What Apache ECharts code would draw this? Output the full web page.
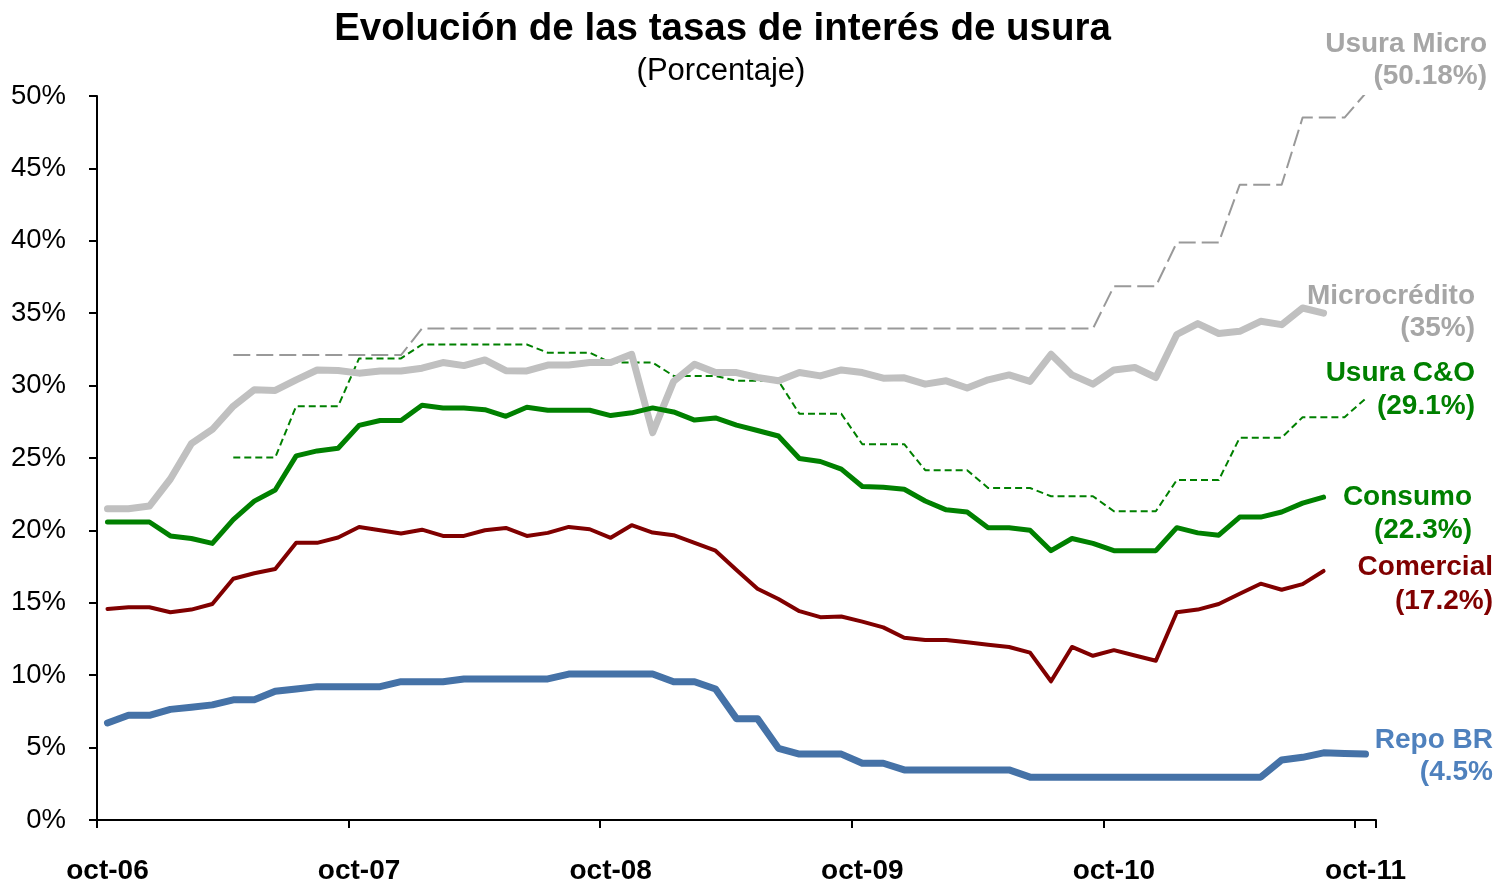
<!DOCTYPE html>
<html><head><meta charset="utf-8">
<script src="https://cdn.jsdelivr.net/npm/echarts@6/dist/echarts.min.js"></script>
<style>html,body{margin:0;padding:0;background:#fff}#c{width:1497px;height:885px}</style>
</head><body><div id="c"></div><script>
const months = [
 'oct-06','nov-06','dic-06','ene-07','feb-07','mar-07','abr-07','may-07','jun-07','jul-07','ago-07','sep-07',
 'oct-07','nov-07','dic-07','ene-08','feb-08','mar-08','abr-08','may-08','jun-08','jul-08','ago-08','sep-08',
 'oct-08','nov-08','dic-08','ene-09','feb-09','mar-09','abr-09','may-09','jun-09','jul-09','ago-09','sep-09',
 'oct-09','nov-09','dic-09','ene-10','feb-10','mar-10','abr-10','may-10','jun-10','jul-10','ago-10','sep-10',
 'oct-10','nov-10','dic-10','ene-11','feb-11','mar-11','abr-11','may-11','jun-11','jul-11','ago-11','sep-11',
 'oct-11'];

const yTicks = [0,5,10,15,20,25,30,35,40,45,50];

const repoBR = [6.70,7.23,7.23,7.64,7.79,7.95,8.30,8.30,8.89,9.05,9.21,9.21,
 9.21,9.21,9.55,9.55,9.55,9.74,9.74,9.74,9.74,9.74,10.08,10.08,
 10.08,10.08,10.08,9.55,9.55,9.05,7.0,7.0,4.95,4.55,4.55,4.55,
 3.92,3.92,3.46,3.46,3.46,3.46,3.46,3.46,2.96,2.96,2.96,2.96,
 2.96,2.96,2.96,2.96,2.96,2.96,2.96,2.96,4.14,4.33,4.64,4.60,4.55];

const comercial = [14.58,14.69,14.69,14.35,14.53,14.92,16.66,17.04,17.34,19.14,19.14,19.51,
 20.24,20.01,19.78,20.05,19.62,19.62,20.01,20.17,19.62,19.83,20.24,20.08,
 19.49,20.36,19.85,19.67,19.14,18.60,17.27,15.97,15.26,14.42,14.01,14.05,
 13.70,13.30,12.59,12.43,12.43,12.27,12.11,11.95,11.56,9.58,11.95,11.34,
 11.73,11.36,11.00,14.35,14.53,14.92,15.63,16.32,15.90,16.29,17.20];

const consumo = [20.58,20.58,20.58,19.62,19.44,19.10,20.74,22.02,22.79,25.15,25.49,25.67,
 27.25,27.59,27.59,28.64,28.46,28.46,28.34,27.88,28.51,28.30,28.30,28.30,
 27.93,28.12,28.46,28.18,27.62,27.77,27.27,26.90,26.52,24.97,24.76,24.23,
 23.03,22.98,22.84,22.03,21.42,21.27,20.19,20.19,20.01,18.60,19.44,19.10,
 18.60,18.60,18.60,20.19,19.83,19.67,20.92,20.92,21.27,21.88,22.30];

const microcredito = [21.49,21.49,21.68,23.55,25.99,26.97,28.58,29.71,29.67,30.40,31.08,31.04,
 30.86,31.01,31.01,31.20,31.59,31.38,31.77,31.03,31.01,31.42,31.42,31.59,
 31.59,32.16,26.75,30.29,31.47,30.90,30.90,30.56,30.33,30.90,30.67,31.08,
 30.90,30.51,30.54,30.10,30.33,29.83,30.40,30.74,30.29,32.16,30.74,30.10,
 31.08,31.25,30.56,33.53,34.28,33.60,33.75,34.44,34.21,35.36,35.00];

const usuraCO = [null,null,null,null,null,null,25.03,25.03,25.03,28.58,28.58,28.58,
 31.88,31.88,31.88,32.84,32.84,32.84,32.84,32.84,32.84,32.27,32.27,32.27,
 31.59,31.59,31.59,30.67,30.67,30.67,30.33,30.33,30.33,28.05,28.05,28.05,
 25.95,25.95,25.95,24.16,24.16,24.16,22.93,22.93,22.93,22.36,22.36,22.36,
 21.32,21.32,21.32,23.48,23.48,23.48,26.40,26.40,26.40,27.82,27.82,27.82,
 29.10];

const usuraMicro = [null,null,null,null,null,null,32.11,32.11,32.11,32.11,32.11,32.11,
 32.11,32.11,32.11,33.94,33.94,33.94,33.94,33.94,33.94,33.94,33.94,33.94,
 33.94,33.94,33.94,33.94,33.94,33.94,33.94,33.94,33.94,33.94,33.94,33.94,
 33.94,33.94,33.94,33.94,33.94,33.94,33.94,33.94,33.94,33.94,33.94,33.94,
 36.86,36.86,36.86,39.88,39.88,39.88,43.87,43.87,43.87,48.51,48.51,48.51,
 50.18];

const endLabels = [
 {lines:['Usura Micro','(50.18%)'], color:'#A6A6A6'},
 {lines:['Microcrédito','(35%)'], color:'#A6A6A6'},
 {lines:['Usura C&O','(29.1%)'], color:'#008000'},
 {lines:['Consumo','(22.3%)'], color:'#008000'},
 {lines:['Comercial','(17.2%)'], color:'#800000'},
 {lines:['Repo BR','(4.5%'], color:'#4F81BD'}
];
const labelPos = [[1487,44,76],[1475,296,328],[1475,373,406],[1472,497,530],[1493,567,601],[1493,740,772]];

const FONT = '"Liberation Sans", Arial, sans-serif';
const chart = echarts.init(document.getElementById('c'), null, {renderer:'canvas'});

function line(name, data, color, width, dash, z) {
  return {name, type:'line', data, symbol:'none', z, silent:true,
    lineStyle:{color, width, type: dash || 'solid', cap: dash ? 'butt' : 'round', join:'round'},
    itemStyle:{color}, emphasis:{disabled:true}};
}

const graphics = [
  {type:'text', x:722.5, y:29, style:{text:'Evolución de las tasas de interés de usura', fill:'#000',
    font:'bold 38.5px '+FONT, textAlign:'center', textVerticalAlign:'middle'}},
  {type:'text', x:721, y:71, style:{text:'(Porcentaje)', fill:'#000',
    font:'31px '+FONT, textAlign:'center', textVerticalAlign:'middle'}}
];
endLabels.forEach((l,k)=>{
  const p = labelPos[k];
  l.lines.forEach((t,j)=>{
    graphics.push({type:'text', x:p[0], y:p[1+j], style:{text:t, fill:l.color,
      font:'bold 28px '+FONT, textAlign:'right', textVerticalAlign:'middle'}});
  });
});

chart.setOption({
  animation:false,
  backgroundColor:'#fff',
  grid:{left:97, top:96, right:121, bottom:59, containLabel:false},
  xAxis:{type:'category', data:months, boundaryGap:true,
    axisLine:{lineStyle:{color:'#000', width:2}},
    axisTick:{show:true, interval:11, length:8, inside:false, lineStyle:{color:'#000', width:2}},
    axisLabel:{interval:11, margin:37, color:'#000', fontWeight:'bold', fontSize:28, fontFamily:FONT},
    splitLine:{show:false}},
  yAxis:{type:'value', min:yTicks[0], max:yTicks[yTicks.length-1], interval:yTicks[1]-yTicks[0],
    axisLine:{show:true, lineStyle:{color:'#000', width:2}},
    axisTick:{show:true, length:8, lineStyle:{color:'#000', width:2}},
    axisLabel:{formatter:'{value}%', margin:31, color:'#000', fontSize:27.5, fontFamily:FONT},
    splitLine:{show:false}},
  series:[
    line('Usura Micro', usuraMicro, '#999999', 2, [17,6], 2),
    line('Usura C&O', usuraCO, '#008000', 2, [7,4], 3),
    line('Microcrédito', microcredito, '#C0C0C0', 7, null, 4),
    line('Consumo', consumo, '#008000', 5, null, 5),
    line('Comercial', comercial, '#800000', 4, null, 6),
    line('Repo BR', repoBR, '#4572A7', 7, null, 7)
  ],
  graphic:graphics
});
</script></body></html>
